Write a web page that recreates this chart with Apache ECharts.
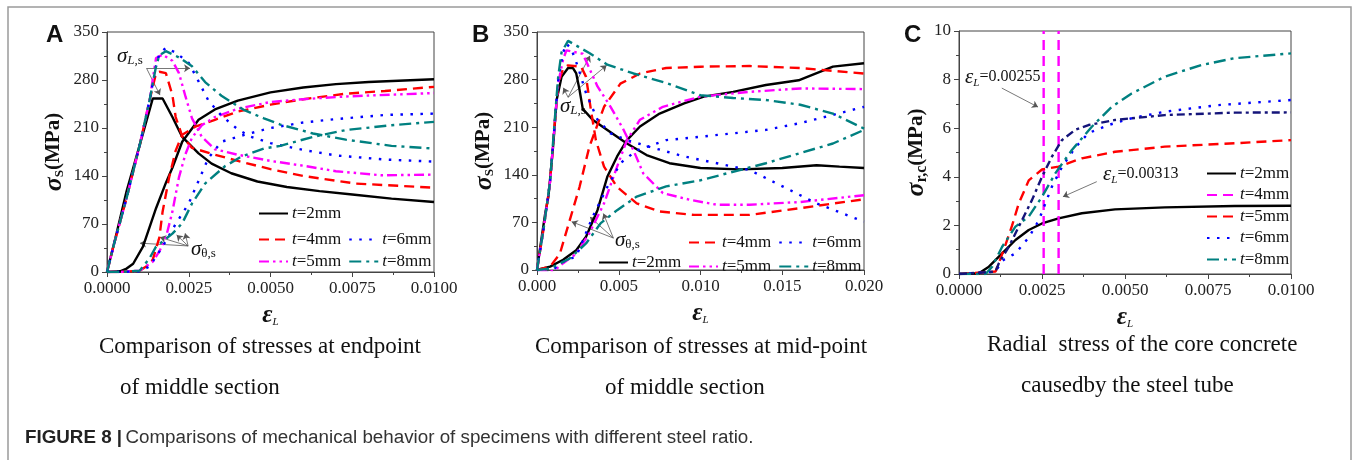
<!DOCTYPE html>
<html>
<head>
<meta charset="utf-8">
<title>Figure 8</title>
<script src="https://cdn.jsdelivr.net/npm/echarts@6/dist/echarts.min.js"></script>
<style>
  html, body { margin: 0; padding: 0; background: #fff; }
  #fig { width: 1356px; height: 460px; }
</style>
</head>
<body>
<div id="fig"></div>
<script>
// ---- values ----
const stressTicks = [0, 70, 140, 210, 280, 350];
const radialTicks = [0, 2, 4, 6, 8, 10];
const strainTicksA = [0, 0.0025, 0.005, 0.0075, 0.01];
const strainTicksB = [0, 0.005, 0.01, 0.015, 0.02];

// panel A, endpoint of middle section: [strain, stress MPa]
const aL2 = [[0,0],[0.0003,58],[0.0006,118],[0.001,185],[0.0014,253],[0.0017,253],[0.002,226],[0.0023,197],[0.0028,173],[0.0032,158],[0.0038,144],[0.0046,132],[0.0055,124],[0.0065,118],[0.0075,113],[0.0087,107],[0.01,102]];
const aT2 = [[0,0],[0.0004,1],[0.0006,5],[0.0008,12],[0.0011,37],[0.0015,93],[0.0018,130],[0.002,152],[0.0023,190],[0.0028,222],[0.0033,237],[0.004,250],[0.005,262],[0.006,269],[0.007,274],[0.008,277],[0.01,281]];
const aL4 = [[0,0],[0.0002,38],[0.0006,108],[0.001,185],[0.0013,250],[0.0015,290],[0.0016,292],[0.0018,290],[0.002,258],[0.0021,226],[0.0023,198],[0.0026,181],[0.0033,171],[0.004,162],[0.005,150],[0.006,140],[0.0076,129],[0.01,123]];
const aT4 = [[0,0],[0.0004,0],[0.001,2],[0.0012,8],[0.0014,18],[0.0016,50],[0.0017,88],[0.0019,138],[0.0021,177],[0.0023,200],[0.0027,212],[0.0033,222],[0.004,234],[0.005,244],[0.006,252],[0.0073,260],[0.0085,264],[0.01,270]];
const aL5 = [[0,0],[0.0002,38],[0.0006,108],[0.001,185],[0.0013,250],[0.0015,312],[0.0017,317],[0.002,308],[0.0022,290],[0.0024,256],[0.0026,224],[0.0029,197],[0.0033,179],[0.004,171],[0.005,162],[0.006,155],[0.007,147],[0.0084,141],[0.01,142]];
const aT5 = [[0,0],[0.0004,0],[0.001,2],[0.0014,15],[0.0016,30],[0.0018,50],[0.002,88],[0.0022,138],[0.0024,172],[0.0026,196],[0.0029,214],[0.0033,226],[0.004,238],[0.005,248],[0.006,252],[0.0073,256],[0.01,261]];
const aL6 = [[0,0],[0.0002,38],[0.0006,108],[0.001,185],[0.0013,250],[0.0015,300],[0.0016,318],[0.0018,327],[0.0021,320],[0.0025,305],[0.0028,278],[0.0031,250],[0.0035,228],[0.004,208],[0.0044,197],[0.005,188],[0.006,178],[0.007,170],[0.0085,164],[0.01,161]];
const aT6 = [[0,0],[0.0004,0],[0.001,1],[0.0013,8],[0.0017,37],[0.0021,70],[0.0025,100],[0.0028,133],[0.0031,166],[0.0035,190],[0.0042,200],[0.005,210],[0.006,218],[0.007,223],[0.0085,229],[0.01,231]];
const aL8 = [[0,0],[0.0002,38],[0.0006,108],[0.001,185],[0.0013,250],[0.0015,300],[0.0016,316],[0.0018,322],[0.0022,313],[0.0026,300],[0.003,277],[0.0035,257],[0.0042,236],[0.0048,224],[0.0053,215],[0.0063,202],[0.0073,193],[0.0087,184],[0.01,180]];
const aT8 = [[0,0],[0.0004,0],[0.001,2],[0.0013,20],[0.0015,37],[0.002,56],[0.0023,71],[0.0026,100],[0.003,129],[0.0036,154],[0.0041,168],[0.0048,180],[0.0053,184],[0.0063,197],[0.0073,207],[0.0087,214],[0.01,219]];

// panel B, mid-point of middle section
const bL2 = [[0,0],[0.0002,34],[0.0005,83],[0.0007,108],[0.001,186],[0.0012,250],[0.0015,284],[0.0019,297],[0.0022,297],[0.0024,289],[0.0026,265],[0.0028,237],[0.0034,221],[0.0043,206],[0.0055,186],[0.0067,169],[0.0081,157],[0.01,150],[0.0124,148],[0.015,150],[0.0171,154],[0.0185,152],[0.02,150]];
const bT2 = [[0,0],[0.0008,5],[0.0016,15],[0.0024,29],[0.003,49],[0.0037,88],[0.0043,137],[0.0049,167],[0.0055,191],[0.0063,211],[0.0075,230],[0.009,245],[0.0102,255],[0.012,262],[0.014,272],[0.016,279],[0.0181,299],[0.02,304]];
const bL4 = [[0,0],[0.0004,60],[0.0008,130],[0.0011,220],[0.0013,275],[0.0016,296],[0.0019,301],[0.0027,299],[0.003,284],[0.0033,235],[0.0036,191],[0.0041,152],[0.0049,122],[0.0061,98],[0.0075,86],[0.0096,81],[0.013,81],[0.0161,91],[0.02,104]];
const bT4 = [[0,0],[0.0008,5],[0.0014,24],[0.002,73],[0.0026,122],[0.0032,181],[0.0041,240],[0.0051,274],[0.0063,289],[0.0079,297],[0.01,299],[0.013,300],[0.0161,297],[0.02,289]];
const bL5 = [[0,0],[0.0004,60],[0.0008,130],[0.0011,220],[0.0013,275],[0.0016,310],[0.0018,323],[0.0028,318],[0.0037,270],[0.0045,240],[0.0053,206],[0.0059,176],[0.0065,142],[0.0077,113],[0.0094,103],[0.011,96],[0.013,96],[0.0161,100],[0.02,110]];
const bT5 = [[0,0],[0.0005,-2],[0.0008,-3],[0.0012,2],[0.0016,10],[0.0024,24],[0.0032,54],[0.0041,98],[0.0049,152],[0.0055,191],[0.0063,221],[0.0077,240],[0.01,255],[0.013,262],[0.0161,267],[0.02,266]];
const bL6 = [[0,0],[0.0004,60],[0.0008,130],[0.0011,220],[0.0013,280],[0.0016,320],[0.0018,333],[0.0021,325],[0.0025,299],[0.003,260],[0.0037,221],[0.0045,201],[0.0055,191],[0.0069,181],[0.009,167],[0.011,157],[0.013,147],[0.0151,122],[0.0171,98],[0.02,71]];
const bT6 = [[0,0],[0.0004,-2],[0.0008,-5],[0.0014,10],[0.0024,20],[0.0034,78],[0.0043,122],[0.0051,157],[0.0061,176],[0.0079,191],[0.01,196],[0.012,201],[0.014,206],[0.0161,216],[0.0181,228],[0.02,240]];
const bL8 = [[0,0],[0.0004,60],[0.0008,130],[0.0011,225],[0.0013,285],[0.0015,320],[0.0019,337],[0.0032,319],[0.0043,302],[0.0059,289],[0.0079,275],[0.01,257],[0.012,253],[0.014,250],[0.0161,243],[0.0181,230],[0.02,208]];
const bT8 = [[0,0],[0.0008,2],[0.002,17],[0.003,39],[0.0039,69],[0.0049,88],[0.0061,108],[0.0079,123],[0.01,132],[0.0124,147],[0.014,157],[0.0161,172],[0.0181,186],[0.02,206]];

// panel C, radial stress of core concrete [strain, MPa]
const c2 = [[0,0],[0.0006,0.03],[0.0009,0.3],[0.0013,0.85],[0.0017,1.4],[0.0021,1.81],[0.0025,2.08],[0.003,2.29],[0.0037,2.5],[0.0047,2.66],[0.0062,2.74],[0.0083,2.8],[0.01,2.81]];
const c5 = [[0,0],[0.0011,0.1],[0.0012,0.45],[0.0014,1.2],[0.0016,2.0],[0.0018,2.9],[0.0021,3.85],[0.0025,4.3],[0.003,4.42],[0.0037,4.76],[0.0047,5.03],[0.0062,5.24],[0.0083,5.38],[0.01,5.51]];
const c6 = [[0,0],[0.0011,0.1],[0.0013,0.55],[0.0017,0.85],[0.0021,1.5],[0.0024,2.2],[0.0026,2.9],[0.0028,3.6],[0.0031,4.4],[0.0035,5.2],[0.0039,5.8],[0.0045,6.13],[0.0052,6.41],[0.0062,6.68],[0.0078,6.95],[0.01,7.16]];
const c8 = [[0,0],[0.0008,0],[0.001,0.3],[0.0013,1.12],[0.0017,1.95],[0.0021,2.36],[0.0025,3.18],[0.0029,4.14],[0.0034,5.1],[0.004,6.06],[0.0046,6.88],[0.0052,7.43],[0.0062,8.12],[0.0073,8.6],[0.0083,8.88],[0.01,9.08]];
const cNavy = [[0,0],[0.0011,0.1],[0.0012,0.44],[0.0015,1.12],[0.0019,2.22],[0.0022,3.05],[0.0025,4.0],[0.0028,4.83],[0.0031,5.51],[0.0035,5.93],[0.0039,6.13],[0.0047,6.34],[0.0062,6.54],[0.0083,6.64],[0.01,6.65]];
const cMarks = [0.00255, 0.003];

// annotation arrows [from, to] in data units
const arrowsA = [[[0.00121,297],[0.00162,258]],[[0.00121,297],[0.00254,297]],
  [[0.00248,38],[0.00101,42]],[[0.00248,38],[0.00162,50.6]],[[0.00248,38],[0.00213,54]],[[0.00248,38],[0.00239,56.4]]];
const arrowsB = [[[0.0019,254],[0.00161,268]],[[0.0019,254],[0.00324,315]],[[0.0019,254],[0.00426,301]],
  [[0.00467,47],[0.00212,71]],[[0.00467,47],[0.00324,78]],[[0.00467,47],[0.00406,83]]];
const arrowsC = [[[0.00129,7.65],[0.00238,6.87]],[[0.00415,3.8],[0.00313,3.18]]];

const SERIF = '"Liberation Serif", "Times New Roman", serif';
const SANS = '"Liberation Sans", Arial, sans-serif';

const BLACK = '#000000', RED = '#ff0000', MAG = '#ff00ff', BLUE = '#0000ff', TEAL = '#008080', NAVY = '#14147a';
const solid = 'solid', dash = [10, 6], dashDotDot = [10, 4, 2.5, 4, 2.5, 4], dots = [2.5, 7.5], dashDot = [12, 5, 3, 5];

function curve(name, data, idx, color, type) {
  return {
    name: name, type: 'line', data: data, xAxisIndex: idx, yAxisIndex: idx,
    symbol: 'none', smooth: false, silent: true, animation: false,
    lineStyle: { color: color, width: 2.4, type: type },
    itemStyle: { color: color }
  };
}
function arrows(list, idx) {
  return {
    type: 'lines', coordinateSystem: 'cartesian2d', xAxisIndex: idx, yAxisIndex: idx,
    symbol: ['none', 'arrow'], symbolSize: 6, silent: true, animation: false,
    lineStyle: { color: '#555', width: 0.8, opacity: 1 },
    data: list.map(p => ({ coords: p }))
  };
}

const tickLabel = { fontFamily: SERIF, fontSize: 17, color: '#222', margin: 8 };
function xAxis(idx, ticks, digits) {
  return {
    type: 'value', gridIndex: idx, min: ticks[0], max: ticks[ticks.length - 1], interval: ticks[1] - ticks[0],
    axisLine: { lineStyle: { color: '#444', width: 1 } },
    axisTick: { length: 5, lineStyle: { color: '#444' } },
    minorTick: { show: true, splitNumber: 2, length: 3, lineStyle: { color: '#444' } },
    splitLine: { show: false },
    axisLabel: Object.assign({ formatter: v => v.toFixed(digits) }, tickLabel),
    name: '{e|ε}{s|L}', nameLocation: 'middle', nameGap: 31,
    nameTextStyle: { rich: {
      e: { fontFamily: SERIF, fontSize: 25, fontWeight: 'bold', fontStyle: 'italic', color: '#111' },
      s: { fontFamily: SERIF, fontSize: 11, fontStyle: 'italic', color: '#111', padding: [14, 0, 0, 0] }
    } }
  };
}
function yAxis(idx, ticks, sub, subSize, gap) {
  return {
    type: 'value', gridIndex: idx, min: ticks[0], max: ticks[ticks.length - 1], interval: ticks[1] - ticks[0],
    axisLine: { lineStyle: { color: '#444', width: 1 } },
    axisTick: { length: 5, lineStyle: { color: '#444' } },
    minorTick: { show: true, splitNumber: 2, length: 3, lineStyle: { color: '#444' } },
    splitLine: { show: false },
    axisLabel: Object.assign({}, tickLabel),
    name: '{g|σ}{s|' + sub + '}{p|(MPa)}', nameLocation: 'middle', nameRotate: 90, nameGap: gap,
    nameTextStyle: { rich: {
      g: { fontFamily: SERIF, fontSize: 26, fontWeight: 'bold', fontStyle: 'italic', color: '#111' },
      s: { fontFamily: SERIF, fontSize: subSize, fontWeight: 'bold', color: '#111', padding: [12, 0, 0, 0] },
      p: { fontFamily: SERIF, fontSize: 21, fontWeight: 'bold', color: '#111' }
    } }
  };
}

function legend(names, left, top, orient, gap) {
  return {
    data: names, left: left, top: top, orient: orient || 'horizontal', itemGap: gap || 7,
    itemWidth: 29, itemHeight: 14, padding: 0, selectedMode: false,
    itemStyle: { color: 'rgba(0,0,0,0)', borderColor: 'rgba(0,0,0,0)', borderWidth: 0, opacity: 0 },
    formatter: n => '{i|t}' + n.split(':')[1].slice(1),
    textStyle: { fontFamily: SERIF, fontSize: 17, color: '#111', lineHeight: 16, padding: [0, 0, 0, -1],
      rich: { i: { fontFamily: SERIF, fontSize: 17, fontStyle: 'italic', color: '#111' } } }
  };
}

function sigmaLabel(x, y, subItalic, subRest) {
  return { type: 'text', x: x, y: y, silent: true, style: {
    text: '{g|σ}' + (subItalic ? '{si|' + subItalic + '}' : '') + '{s|' + subRest + '}', verticalAlign: 'middle',
    rich: { g: { font: 'italic 21px ' + SERIF, fill: '#111' },
            si: { font: 'italic 13px ' + SERIF, fill: '#111', padding: [10, 0, 0, 0] },
            s: { font: '13px ' + SERIF, fill: '#111', padding: [10, 0, 0, 0] } } } };
}
function epsLabel(x, y, val) {
  return { type: 'text', x: x, y: y, silent: true, style: {
    text: '{g|ε}{s|L}{v|=' + val + '}', verticalAlign: 'middle',
    rich: { g: { font: 'italic 21px ' + SERIF, fill: '#111' },
            s: { font: 'italic 11px ' + SERIF, fill: '#111', padding: [12, 0, 0, 0] },
            v: { font: '16px ' + SERIF, fill: '#111' } } } };
}
function plainText(x, y, txt, font, align) {
  return { type: 'text', x: x, y: y, silent: true,
    style: { text: txt, font: font, fill: '#111', verticalAlign: 'middle', align: align || 'left' } };
}

const chart = echarts.init(document.getElementById('fig'), null, { renderer: 'canvas' });
const option = {
  backgroundColor: '#fff',
  animation: false,
  grid: [
    { left: 107, top: 32, width: 327, height: 240, show: true, borderColor: '#444', borderWidth: 1 },
    { left: 537, top: 32, width: 327, height: 238, show: true, borderColor: '#444', borderWidth: 1 },
    { left: 959, top: 31, width: 332, height: 243, show: true, borderColor: '#444', borderWidth: 1 }
  ],
  xAxis: [xAxis(0, strainTicksA, 4), xAxis(1, strainTicksB, 3), xAxis(2, strainTicksA, 4)],
  yAxis: [yAxis(0, stressTicks, 'S', 13, 40), yAxis(1, stressTicks, 'S', 13, 40), yAxis(2, radialTicks, 'r,c', 16, 20)],
  legend: [
    legend(['A:t=2mm'], 258, 205),
    legend(['A:t=4mm', 'A:t=6mm'], 258, 231, 'horizontal', 7),
    legend(['A:t=5mm', 'A:t=8mm'], 258, 253, 'horizontal', 7),
    legend(['B:t=4mm', 'B:t=6mm'], 688, 234, 'horizontal', 7),
    legend(['B:t=2mm'], 598, 254),
    legend(['B:t=5mm', 'B:t=8mm'], 688, 258, 'horizontal', 7),
    legend(['C:t=2mm', 'C:t=4mm', 'C:t=5mm', 'C:t=6mm', 'C:t=8mm'], 1206, 165, 'vertical', 4.5)
  ],
  series: [
    curve('A:t=2mm', aL2, 0, BLACK, solid), curve('A:t=2mm', aT2, 0, BLACK, solid),
    curve('A:t=4mm', aL4, 0, RED, dash), curve('A:t=4mm', aT4, 0, RED, dash),
    curve('A:t=5mm', aL5, 0, MAG, dashDotDot), curve('A:t=5mm', aT5, 0, MAG, dashDotDot),
    curve('A:t=6mm', aL6, 0, BLUE, dots), curve('A:t=6mm', aT6, 0, BLUE, dots),
    curve('A:t=8mm', aL8, 0, TEAL, dashDot), curve('A:t=8mm', aT8, 0, TEAL, dashDot),
    arrows(arrowsA, 0),

    curve('B:t=2mm', bL2, 1, BLACK, solid), curve('B:t=2mm', bT2, 1, BLACK, solid),
    curve('B:t=4mm', bL4, 1, RED, dash), curve('B:t=4mm', bT4, 1, RED, dash),
    curve('B:t=5mm', bL5, 1, MAG, dashDotDot), curve('B:t=5mm', bT5, 1, MAG, dashDotDot),
    curve('B:t=6mm', bL6, 1, BLUE, dots), curve('B:t=6mm', bT6, 1, BLUE, dots),
    curve('B:t=8mm', bL8, 1, TEAL, dashDot), curve('B:t=8mm', bT8, 1, TEAL, dashDot),
    arrows(arrowsB, 1),

    curve('C:t=2mm', c2, 2, BLACK, solid),
    // the two magenta dashed markers at eps_L = 0.00255 and 0.00313
    ...cMarks.map(v => curve('C:t=4mm', [[v, radialTicks[0]], [v, radialTicks[radialTicks.length - 1]]], 2, MAG, dash)),
    curve('C:t=5mm', c5, 2, RED, dash),
    curve('C:t=6mm', c6, 2, BLUE, dots),
    curve('C:t=8mm', c8, 2, TEAL, dashDot),
    curve('C:other', cNavy, 2, NAVY, [8, 4, 3, 4]),
    arrows(arrowsC, 2)
  ],
  graphic: [
    { type: 'rect', silent: true, shape: { x: 8, y: 7, width: 1343, height: 470 },
      style: { fill: 'none', stroke: '#9a9a9a', lineWidth: 1.5 } },
    plainText(46, 35, 'A', 'bold 24px ' + SANS),
    plainText(472, 35, 'B', 'bold 24px ' + SANS),
    plainText(904, 35, 'C', 'bold 24px ' + SANS),
    sigmaLabel(117, 56, 'L', ',s'),
    sigmaLabel(191, 249, '', 'θ,s'),
    sigmaLabel(560, 106, 'L', ',s'),
    sigmaLabel(615, 240, '', 'θ,s'),
    epsLabel(965, 77, '0.00255'),
    epsLabel(1103, 174, '0.00313'),
    plainText(99, 347, 'Comparison of stresses at endpoint', '23px ' + SERIF),
    plainText(120, 388, 'of middle section', '23px ' + SERIF),
    plainText(535, 347, 'Comparison of stresses at mid-point', '23px ' + SERIF),
    plainText(605, 388, 'of middle section', '23px ' + SERIF),
    plainText(987, 345, 'Radial  stress of the core concrete', '23px ' + SERIF),
    plainText(1021, 386, 'causedby the steel tube', '23px ' + SERIF),
    { type: 'text', x: 25, y: 438, silent: true, style: {
      text: '{b|FIGURE 8 |} {n|Comparisons of mechanical behavior of specimens with different steel ratio.}',
      verticalAlign: 'middle',
      rich: { b: { font: 'bold 18.8px ' + SANS, fill: '#222' }, n: { font: '18.8px ' + SANS, fill: '#333' } } } }
  ]
};
chart.setOption(option);
</script>
</body>
</html>
